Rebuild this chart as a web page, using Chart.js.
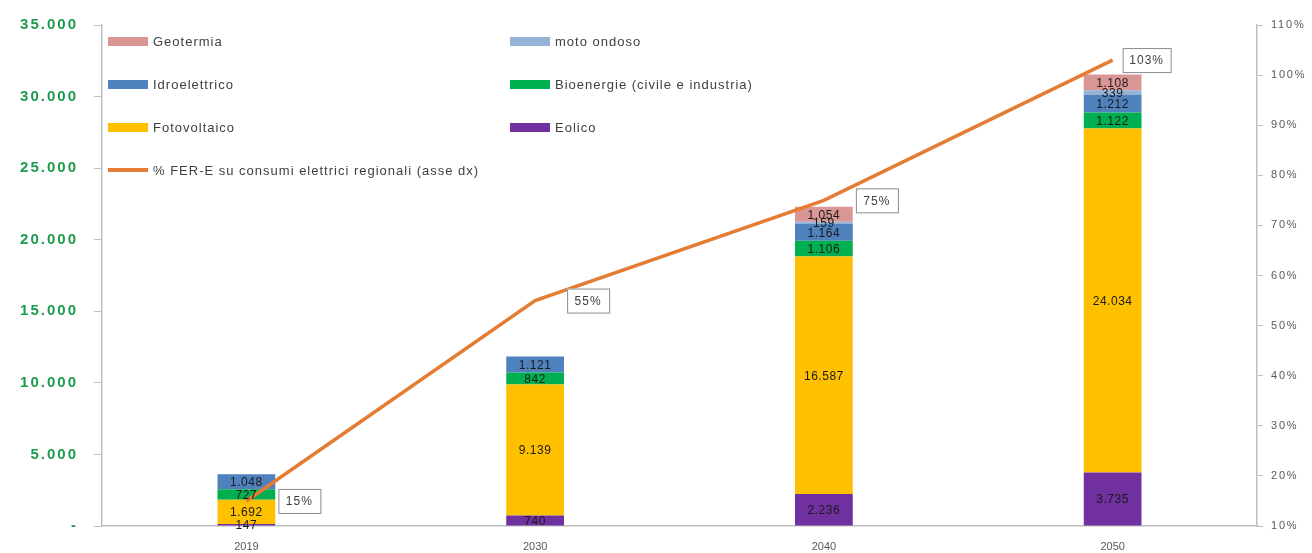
<!DOCTYPE html>
<html>
<head>
<meta charset="utf-8">
<script src="https://cdn.jsdelivr.net/npm/chart.js@4"></script>
<style>
  html, body { margin: 0; padding: 0; background: #fff; }
  #wrap { position: relative; width: 1312px; height: 553px; }
  #legend { position: absolute; left: 108px; top: 32px; width: 700px;
            font-family: "Liberation Sans", sans-serif;
            font-size: 13px; letter-spacing: 1px; color: #404040; }
  .lg-item { position: absolute; display: flex; align-items: center; white-space: nowrap; }
  .lg-sw { width: 40px; margin-right: 5px; }
</style>
</head>
<body>
<div id="wrap">
  <canvas id="chart" width="1312" height="553"></canvas>
  <div id="legend"></div>
</div>
<script>
// ── DATI ──
const years = ['2019', '2030', '2040', '2050'];
const eolico       = [147, 740, 2236, 3735];
const fotovoltaico = [1692, 9139, 16587, 24034];
const bioenergie   = [727, 842, 1106, 1122];
const idro         = [1048, 1121, 1164, 1212];
const motoOndoso   = [0, 0, 159, 339];
const geotermia    = [0, 0, 1054, 1108];
const ferPct       = [15, 55, 75, 103];

const leftTicks = [0, 5000, 10000, 15000, 20000, 25000, 30000, 35000];
const rightTicks = [10, 20, 30, 40, 50, 60, 70, 80, 90, 100, 110];

const FONT = '"Liberation Sans", sans-serif';
const fmtIt = v => v === 0 ? '-' : v.toLocaleString('it-IT');

// ── ETICHETTE DATI ──
const labelPlugin = {
    id: 'segLabels',
    afterDatasetsDraw(chart) {
        const ctx = chart.ctx;
        ctx.save();
        ctx.textAlign = 'center';
        ctx.textBaseline = 'middle';
        chart.data.datasets.forEach((ds, i) => {
            const meta = chart.getDatasetMeta(i);
            if (ds.type === 'line') {
                meta.data.forEach((pt, j) => {
                    const last = j === ds.data.length - 1;
                    const bx = pt.x + (last ? 10 : 32), by = pt.y - 12, bw = last ? 48 : 42, bh = 24;
                    ctx.fillStyle = '#fff';
                    ctx.strokeStyle = '#8c8c8c';
                    ctx.lineWidth = 1;
                    ctx.fillRect(bx, by, bw, bh);
                    ctx.strokeRect(bx + 0.5, by + 0.5, bw, bh);
                    ctx.fillStyle = '#404040';
                    ctx.letterSpacing = '1px';
                    ctx.font = '12px ' + FONT;
                    ctx.fillText(ds.data[j] + '%', bx + bw / 2, by + bh / 2 + 1);
                });
                return;
            }
            meta.data.forEach((bar, j) => {
                const v = ds.data[j];
                if (!v) return;
                const p = bar.getProps(['x', 'y', 'base'], true);
                ctx.fillStyle = '#1a1a1a';
                ctx.letterSpacing = '0.5px';
                ctx.font = '12px ' + FONT;
                ctx.fillText(fmtIt(v), p.x, (p.y + p.base) / 2 + 1);
            });
        });
        ctx.restore();
    }
};

const barDs = (label, data, color) => ({
    type: 'bar', label, data, backgroundColor: color,
    stack: 's', yAxisID: 'y', barPercentage: 0.2, categoryPercentage: 1.0, order: 2
});

const datasets = [
    barDs('Eolico', eolico, '#7030A0'),
    barDs('Fotovoltaico', fotovoltaico, '#FFC000'),
    barDs('Bioenergie (civile e industria)', bioenergie, '#00B050'),
    barDs('Idroelettrico', idro, '#4F81BD'),
    barDs('moto ondoso', motoOndoso, '#95B3D7'),
    barDs('Geotermia', geotermia, '#D99694'),
    {
        type: 'line', label: '% FER-E su consumi elettrici regionali  (asse dx)',
        data: ferPct, borderColor: '#E57C33', borderWidth: 3.5, pointRadius: 0,
        yAxisID: 'y1', order: 1, tension: 0
    }
];

const chart = new Chart(document.getElementById('chart'), {
    data: { labels: years, datasets },
    options: {
        responsive: false,
        animation: false,
        layout: { padding: { top: 22, right: 0, bottom: 0, left: 0 } },
        plugins: { legend: { display: false }, tooltip: { enabled: false } },
        scales: {
            x: {
                stacked: true,
                grid: { display: false },
                border: { display: true, color: '#bfbfbf', width: 1.5 },
                ticks: { color: '#595959', font: { size: 11, family: FONT }, padding: 6 },
                afterFit: s => { s.height = 27; }
            },
            y: {
                stacked: true, position: 'left', min: 0, max: 35000,
                afterBuildTicks: s => { s.ticks = leftTicks.map(v => ({ value: v })); },
                grid: { drawOnChartArea: false, tickLength: 8, color: '#bfbfbf' },
                border: { display: true, color: '#bfbfbf', width: 1.5 },
                ticks: {
                    color: '#1E9B4E', padding: 16,
                    font: { size: 15, weight: 'bold', family: FONT },
                    callback: v => fmtIt(v)
                },
                afterFit: s => { s.width = 102; }
            },
            y1: {
                position: 'right', min: 10, max: 110,
                afterBuildTicks: s => { s.ticks = rightTicks.map(v => ({ value: v })); },
                grid: { drawOnChartArea: false, tickLength: 6, color: '#bfbfbf' },
                border: { display: true, color: '#bfbfbf', width: 1.5 },
                ticks: {
                    color: '#595959', padding: 8,
                    font: { size: 11, family: FONT },
                    callback: v => v + '%'
                },
                afterFit: s => { s.width = 55; }
            }
        }
    },
    plugins: [labelPlugin]
});

// testo delle etichette assi "allargato" come nell'originale (solo assi y)
const spacing = { y: '2px', y1: '1.8px' };
Object.keys(spacing).forEach(id => {
    const sc = chart.scales[id];
    const orig = sc.drawLabels.bind(sc);
    sc.drawLabels = area => {
        chart.ctx.save();
        chart.ctx.letterSpacing = spacing[id];
        orig(area);
        chart.ctx.restore();
    };
});
chart.draw();

// ── LEGENDA (ordine come nel grafico originale) ──
const legendOrder = [5, 4, 3, 2, 1, 0, 6];
const legendEl = document.getElementById('legend');
legendOrder.forEach((idx, k) => {
    const ds = datasets[idx];
    const col = k < 6 ? k % 2 : 0;
    const row = Math.floor(k / 2);
    const item = document.createElement('div');
    item.className = 'lg-item';
    item.style.left = (col * 402) + 'px';
    item.style.top = (row * 43) + 'px';
    item.style.height = '18px';
    const sw = document.createElement('span');
    sw.className = 'lg-sw';
    const isLine = ds.type === 'line';
    sw.style.height = isLine ? '4px' : '9px';
    sw.style.background = isLine ? ds.borderColor : ds.backgroundColor;
    const tx = document.createElement('span');
    tx.textContent = ds.label;
    item.appendChild(sw);
    item.appendChild(tx);
    legendEl.appendChild(item);
});
</script>
</body>
</html>
